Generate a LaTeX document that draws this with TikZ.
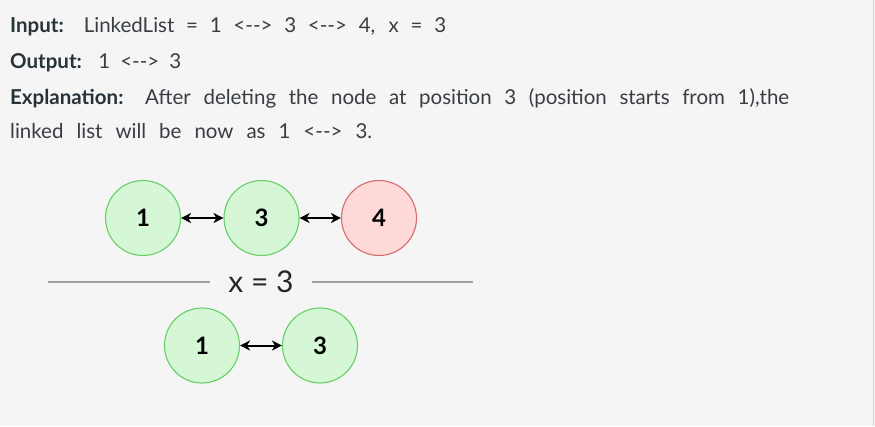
\documentclass[tikz,border=0pt]{standalone}
\usepackage{fontspec}
\newfontfamily\bodyfont{Lato}
\usetikzlibrary{arrows.meta}
\definecolor{bg}{HTML}{F5F5F5}
\definecolor{labelc}{HTML}{273239}
\definecolor{textc}{HTML}{383C43}
\definecolor{gfill}{HTML}{D5F7D5}
\definecolor{gdraw}{HTML}{66CF66}
\definecolor{rfill}{HTML}{FFD8D8}
\definecolor{rdraw}{HTML}{D56B6B}
\definecolor{sepc}{HTML}{A0A0A0}
\tikzset{
  txtline/.style={anchor=base west, inner sep=0pt, text=textc, font=\bodyfont\fontsize{20.5}{23}\selectfont},
  lnode/.style={circle, minimum size=75pt, inner sep=0pt, line width=1.1pt, font=\bodyfont\bfseries\fontsize{24}{26}\selectfont, text=black},
  gnode/.style={lnode, draw=gdraw, fill=gfill},
  rnode/.style={lnode, draw=rdraw, fill=rfill},
  dbl/.style={{Stealth[length=10pt,width=10pt,inset=3pt]}-{Stealth[length=10pt,width=10pt,inset=3pt]}, line width=2pt, black},
  sepline/.style={draw=sepc, line width=1.6pt},
}
\newcommand{\lb}[1]{\textcolor{labelc}{\bfseries #1}}
\begin{document}
\begin{tikzpicture}[x=1pt,y=-1pt]
\fill[bg] (0,0) rectangle (875,426);
\useasboundingbox (0,0) rectangle (875,426);
\draw[gray!35, line width=1pt] (873,0) -- (873,426);

\node[txtline] (t1) at (10,32.3) {\hbox to 436pt{\lb{Input:} LinkedList = 1 <-{}-> 3 <-{}-> 4, x = 3}};
\node[txtline] (t2) at (10,68.3) {\hbox to 171pt{\lb{Output:} 1 <-{}-> 3}};
\node[txtline] (t3) at (10,104.3) {\hbox to 779pt{\lb{Explanation:} After deleting the node at position 3 (position starts from 1),the}};
\node[txtline] (t4) at (10,138.5) {\hbox to 362pt{linked list will be now as 1 <-{}-> 3.}};

\node[gnode] (a1) at (143,218) {1};
\node[gnode] (a3) at (261.5,218) {3};
\node[rnode] (a4) at (379,218) {4};
\draw[dbl] (a1) -- (a3);
\draw[dbl] (a3) -- (a4);

\node[anchor=base, inner sep=0pt, text=black!85, font=\bodyfont\fontsize{30}{32}\selectfont] (xeq) at (261,292.3) {x = 3};
\coordinate (s1) at (48,281.7);
\coordinate (s2) at (210,281.7);
\coordinate (s3) at (312,281.7);
\coordinate (s4) at (473,281.7);
\draw[sepline] (s1) -- (s2);
\draw[sepline] (s3) -- (s4);

\node[gnode] (b1) at (202,345.5) {1};
\node[gnode] (b3) at (320,345.5) {3};
\draw[dbl] (b1) -- (b3);
\end{tikzpicture}
\end{document}
